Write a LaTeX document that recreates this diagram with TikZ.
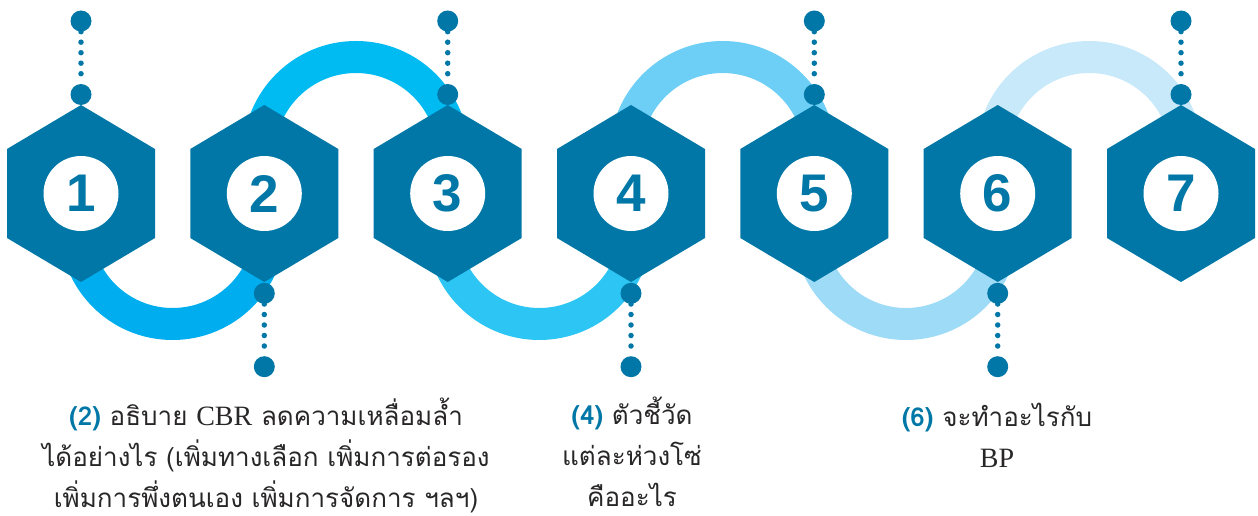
\documentclass[tikz,border=0pt]{standalone}
\usepackage{fontspec}
\setmainfont{Liberation Serif}
\newfontfamily\thaifont[Script=Thai]{Loma}
\newfontfamily\numfont{Liberation Sans}
\usetikzlibrary{positioning}
\definecolor{hexblue}{RGB}{0,119,166}
\definecolor{ringA}{RGB}{0,174,239}
\definecolor{ringB}{RGB}{0,187,242}
\definecolor{ringC}{RGB}{45,197,243}
\definecolor{ringD}{RGB}{109,207,246}
\definecolor{ringE}{RGB}{158,219,247}
\definecolor{ringF}{RGB}{199,233,249}
\definecolor{textgray}{RGB}{40,38,38}
\newcommand{\qtag}[1]{{\color{hexblue}\bfseries #1}}
\newcommand{\latinword}[1]{{\rmfamily\fontsize{28}{41}\selectfont #1}}
\tikzset{
  hexbox/.style={fill=hexblue},
  numdisc/.style={circle, fill=white, minimum size=75pt, inner sep=0pt, text=hexblue, font=\numfont\bfseries\fontsize{53}{53}\selectfont},
  ring/.style={line width=32pt},
  pinhead/.style={circle, fill=hexblue, minimum size=21pt, inner sep=0pt},
  pinline/.style={draw=hexblue, line width=5.5pt, line cap=round, dash pattern=on 0pt off 10.5pt},
  caption/.style={align=center, anchor=base, inner sep=0pt, text=textgray, font=\thaifont\fontsize{26}{41}\selectfont}
}

\begin{document}
\begin{tikzpicture}[x=1pt,y=-1pt]
  \useasboundingbox (0,0) rectangle (1258,516);

  % centres of the seven links
  \coordinate (c1) at (81,193.5);
  \coordinate (c2) at (264.3,193.5);
  \coordinate (c3) at (447.7,193.5);
  \coordinate (c4) at (631,193.5);
  \coordinate (c5) at (814.3,193.5);
  \coordinate (c6) at (997.7,193.5);
  \coordinate (c7) at (1181,193.5);

  % chain rings (behind the hexagons)
  \draw[ring, ringA] (172.6,227) ++(-97,0) arc[start angle=180, end angle=0, radius=97];
  \draw[ring, ringB] (356,154) ++(-97,0) arc[start angle=180, end angle=360, radius=97];
  \draw[ring, ringC] (539.3,227) ++(-97,0) arc[start angle=180, end angle=0, radius=97];
  \draw[ring, ringD] (722.7,154) ++(-97,0) arc[start angle=180, end angle=360, radius=97];
  \draw[ring, ringE] (906,227) ++(-97,0) arc[start angle=180, end angle=0, radius=97];
  \draw[ring, ringF] (1089.3,154) ++(-97,0) arc[start angle=180, end angle=360, radius=97];

  % hexagons
  \fill[hexbox] (c1) ++(0,-88.5) -- ++(74,44) -- ++(0,89) -- ++(-74,44) -- ++(-74,-44) -- ++(0,-89) -- cycle;
  \fill[hexbox] (c2) ++(0,-88.5) -- ++(74,44) -- ++(0,89) -- ++(-74,44) -- ++(-74,-44) -- ++(0,-89) -- cycle;
  \fill[hexbox] (c3) ++(0,-88.5) -- ++(74,44) -- ++(0,89) -- ++(-74,44) -- ++(-74,-44) -- ++(0,-89) -- cycle;
  \fill[hexbox] (c4) ++(0,-88.5) -- ++(74,44) -- ++(0,89) -- ++(-74,44) -- ++(-74,-44) -- ++(0,-89) -- cycle;
  \fill[hexbox] (c5) ++(0,-88.5) -- ++(74,44) -- ++(0,89) -- ++(-74,44) -- ++(-74,-44) -- ++(0,-89) -- cycle;
  \fill[hexbox] (c6) ++(0,-88.5) -- ++(74,44) -- ++(0,89) -- ++(-74,44) -- ++(-74,-44) -- ++(0,-89) -- cycle;
  \fill[hexbox] (c7) ++(0,-88.5) -- ++(74,44) -- ++(0,89) -- ++(-74,44) -- ++(-74,-44) -- ++(0,-89) -- cycle;

  \node[numdisc] (n1) at (c1) {1};
  \node[numdisc] (n2) at (c2) {2};
  \node[numdisc] (n3) at (c3) {3};
  \node[numdisc] (n4) at (c4) {4};
  \node[numdisc] (n5) at (c5) {5};
  \node[numdisc] (n6) at (c6) {6};
  \node[numdisc] (n7) at (c7) {7};

  % pins above the odd links
  \node[pinhead] (t1) at (81,21) {};
  \node[pinhead] (u1) at (81,94.5) {};
  \draw[pinline] (t1) -- (u1);
  \node[pinhead] (t3) at (447.7,21) {};
  \node[pinhead] (u3) at (447.7,94.5) {};
  \draw[pinline] (t3) -- (u3);
  \node[pinhead] (t5) at (814.3,21) {};
  \node[pinhead] (u5) at (814.3,94.5) {};
  \draw[pinline] (t5) -- (u5);
  \node[pinhead] (t7) at (1181,21) {};
  \node[pinhead] (u7) at (1181,94.5) {};
  \draw[pinline] (t7) -- (u7);

  % pins below the even links
  \node[pinhead] (t2) at (264.3,293.3) {};
  \node[pinhead] (u2) at (264.3,366.7) {};
  \draw[pinline] (t2) -- (u2);
  \node[pinhead] (t4) at (631,293.3) {};
  \node[pinhead] (u4) at (631,366.7) {};
  \draw[pinline] (t4) -- (u4);
  \node[pinhead] (t6) at (997.7,293.3) {};
  \node[pinhead] (u6) at (997.7,366.7) {};
  \draw[pinline] (t6) -- (u6);

  % questions (anchored at the baseline of their last line)
  \node[caption] (q2) at (266,507) {\qtag{(2)} อธิบาย \latinword{CBR} ลดความเหลื่อมล้ำ\\ได้อย่างไร (เพิ่มทางเลือก เพิ่มการต่อรอง\\เพิ่มการพึ่งตนเอง เพิ่มการจัดการ ฯลฯ)};
  \node[caption] (q4) at (632,506) {\qtag{(4)} ตัวชี้วัด\\แต่ละห่วงโซ่\\คืออะไร};
  \node[caption] (q6) at (997,467) {\qtag{(6)} จะทำอะไรกับ\\\latinword{BP}};
\end{tikzpicture}
\end{document}
